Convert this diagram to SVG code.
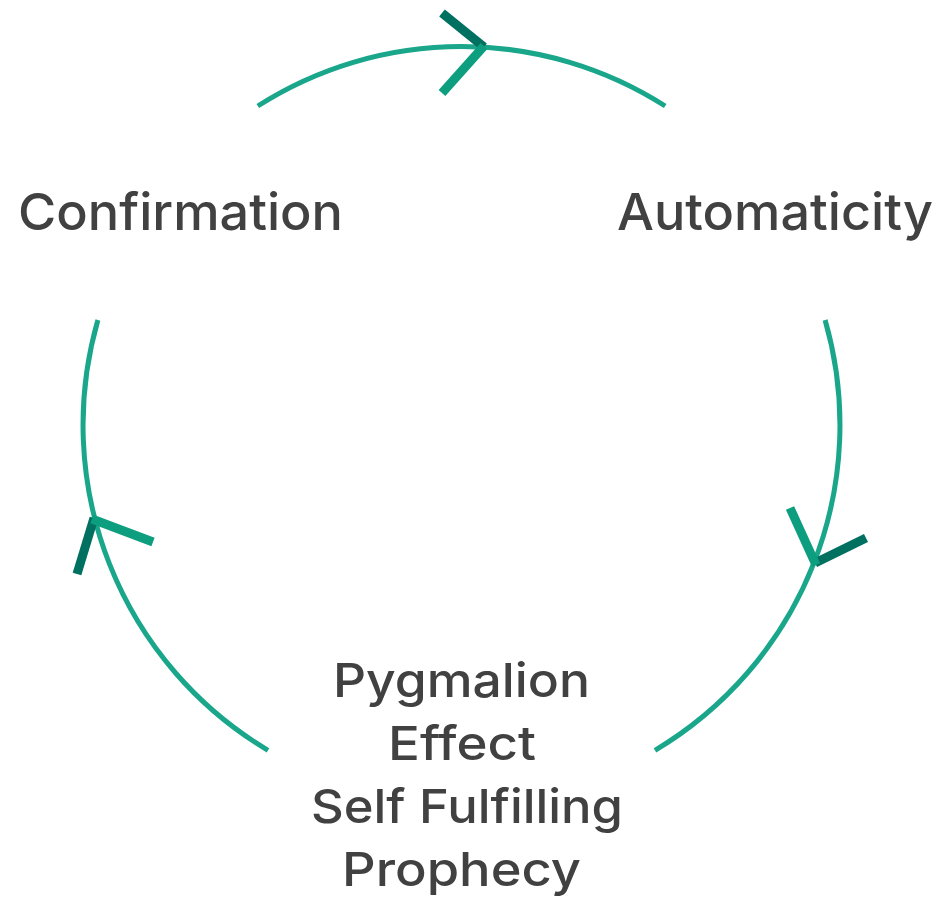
<svg xmlns="http://www.w3.org/2000/svg" width="940" height="904" viewBox="0 0 940 904">
<style>
.arc{fill:none;stroke:#19a68a;stroke-width:5}
.lt{fill:none;stroke:#0c9e7e;stroke-width:9;stroke-linecap:butt}
.dk{fill:none;stroke:#007060;stroke-width:9;stroke-linecap:butt}
.lbl{font-family:Inter,"Liberation Sans",sans-serif;font-weight:550;fill:#414141}
.big{font-size:51px}
.sm{font-size:47px}
</style>
<rect width="940" height="904" fill="#ffffff"/>
<g id="connectors">
<path class="arc" d="M257.8,106 A378.5,378.5 0 0 1 665.2,106"/>
<path class="arc" d="M825.1,320 A378.5,378.5 0 0 1 655,750.3"/>
<path class="arc" d="M268,750.3 A378.5,378.5 0 0 1 97.9,320"/>
<g id="arrow-top">
<line class="dk" x1="442" y1="13" x2="484" y2="47"/>
<line class="lt" x1="442" y1="93" x2="484" y2="46"/>
</g>
<g id="arrow-right">
<line class="dk" x1="866" y1="538" x2="815" y2="563"/>
<line class="lt" x1="790" y1="508" x2="816" y2="565"/>
</g>
<g id="arrow-left">
<line class="dk" x1="77" y1="574" x2="94" y2="518"/>
<line class="lt" x1="153" y1="542" x2="92" y2="519"/>
</g>
</g>
<g id="node-confirmation">
<text class="lbl big" x="18" y="230" textLength="325" lengthAdjust="spacingAndGlyphs">Confirmation</text>
</g>
<g id="node-automaticity">
<text class="lbl big" x="617" y="230" textLength="316" lengthAdjust="spacingAndGlyphs">Automaticity</text>
</g>
<g id="node-pygmalion">
<text class="lbl sm" x="333" y="697" textLength="257" lengthAdjust="spacingAndGlyphs">Pygmalion</text>
<text class="lbl sm" x="388" y="760" textLength="148" lengthAdjust="spacingAndGlyphs">Effect</text>
<text class="lbl sm" x="311" y="823" textLength="312" lengthAdjust="spacingAndGlyphs">Self Fulfilling</text>
<text class="lbl sm" x="342" y="886" textLength="239" lengthAdjust="spacingAndGlyphs">Prophecy</text>
</g>
</svg>
